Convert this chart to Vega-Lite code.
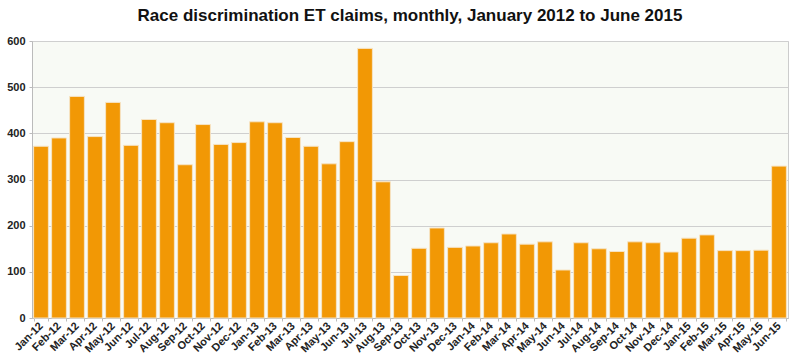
{
  "$schema": "https://vega.github.io/schema/vega-lite/v6.json",
  "width": 800,
  "height": 364,
  "autosize": {"type": "fit", "contains": "padding"},
  "padding": {"left": 6, "top": 7, "right": 12, "bottom": 10},
  "background": "white",
  "title": {
    "text": "Race discrimination ET claims, monthly, January 2012 to June 2015",
    "font": "Liberation Sans",
    "fontSize": 17,
    "fontWeight": "bold",
    "color": "#111",
    "anchor": "middle",
    "offset": 10
  },
  "data": {
    "values": [
      {"month": "Jan-12", "claims": 372},
      {"month": "Feb-12", "claims": 390},
      {"month": "Mar-12", "claims": 480},
      {"month": "Apr-12", "claims": 393},
      {"month": "May-12", "claims": 467},
      {"month": "Jun-12", "claims": 374},
      {"month": "Jul-12", "claims": 430},
      {"month": "Aug-12", "claims": 423},
      {"month": "Sep-12", "claims": 332},
      {"month": "Oct-12", "claims": 419},
      {"month": "Nov-12", "claims": 376},
      {"month": "Dec-12", "claims": 380},
      {"month": "Jan-13", "claims": 425},
      {"month": "Feb-13", "claims": 423},
      {"month": "Mar-13", "claims": 391},
      {"month": "Apr-13", "claims": 372},
      {"month": "May-13", "claims": 334},
      {"month": "Jun-13", "claims": 382},
      {"month": "Jul-13", "claims": 584},
      {"month": "Aug-13", "claims": 295},
      {"month": "Sep-13", "claims": 92},
      {"month": "Oct-13", "claims": 151},
      {"month": "Nov-13", "claims": 195},
      {"month": "Dec-13", "claims": 153},
      {"month": "Jan-14", "claims": 156},
      {"month": "Feb-14", "claims": 163},
      {"month": "Mar-14", "claims": 182},
      {"month": "Apr-14", "claims": 160},
      {"month": "May-14", "claims": 165},
      {"month": "Jun-14", "claims": 104},
      {"month": "Jul-14", "claims": 163},
      {"month": "Aug-14", "claims": 150},
      {"month": "Sep-14", "claims": 144},
      {"month": "Oct-14", "claims": 165},
      {"month": "Nov-14", "claims": 163},
      {"month": "Dec-14", "claims": 143},
      {"month": "Jan-15", "claims": 173},
      {"month": "Feb-15", "claims": 180},
      {"month": "Mar-15", "claims": 146},
      {"month": "Apr-15", "claims": 146},
      {"month": "May-15", "claims": 147},
      {"month": "Jun-15", "claims": 329}
    ]
  },
  "mark": {"type": "bar", "color": "#F29805", "stroke": "#f6e3c4", "strokeWidth": 1},
  "encoding": {
    "x": {
      "field": "month",
      "type": "ordinal",
      "sort": null,
      "scale": {"paddingInner": 0.18, "paddingOuter": 0.09},
      "axis": {
        "title": null,
        "labelAngle": -45,
        "labelAlign": "right",
        "labelBaseline": "middle",
        "labelFont": "Liberation Sans",
        "labelFontSize": 11,
        "labelFontWeight": "bold",
        "labelColor": "#222",
        "labelPadding": 3,
        "labelOverlap": false,
        "domainColor": "#bbb",
        "tickColor": "#bbb",
        "tickSize": 3,
        "tickBand": "extent"
      }
    },
    "y": {
      "field": "claims",
      "type": "quantitative",
      "scale": {"domain": [0, 600]},
      "axis": {
        "title": null,
        "values": [0, 100, 200, 300, 400, 500, 600],
        "labelFont": "Liberation Sans",
        "labelFontSize": 11,
        "labelFontWeight": "bold",
        "labelColor": "#222",
        "labelPadding": 4,
        "gridColor": "#cfcfcf",
        "gridWidth": 1,
        "domainColor": "#bbb",
        "tickColor": "#bbb",
        "tickSize": 3
      }
    }
  },
  "config": {
    "view": {"fill": "#f8faf5", "stroke": "#cccccc"}
  }
}
